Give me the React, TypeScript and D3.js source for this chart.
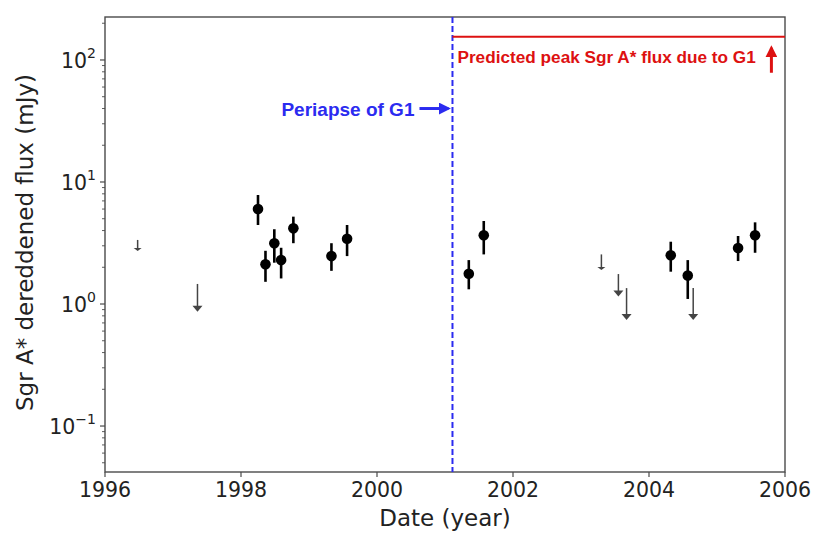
import React from 'react';
import * as d3 from 'd3';

// detections: year, flux, error bar top, error bar bottom (mJy)
const detYears = [1998.25, 1998.36, 1998.49, 1998.59, 1998.77, 1999.33, 1999.56, 2001.35, 2001.57, 2004.32, 2004.57, 2005.31, 2005.56];
const detFlux = [6.0, 2.12, 3.15, 2.29, 4.17, 2.47, 3.43, 1.77, 3.66, 2.51, 1.71, 2.88, 3.66];
const detHigh = [7.82, 2.73, 4.1, 2.89, 5.2, 3.15, 4.44, 2.29, 4.79, 3.24, 2.29, 3.61, 4.67];
const detLow = [4.44, 1.52, 2.18, 1.62, 3.15, 1.87, 2.47, 1.32, 2.55, 1.84, 1.1, 2.25, 2.63];

// upper limits: year, limit value, arrow tip value
const limYears = [1996.48, 1997.36, 2003.3, 2003.55, 2003.67, 2004.65];
const limFlux = [3.35, 1.46, 2.55, 1.76, 1.35, 1.35];
const limTip = [2.72, 0.865, 1.9, 1.15, 0.74, 0.74];

const xTicks = [1996, 1998, 2000, 2002, 2004, 2006];
const yTicks = [-1, 0, 1, 2];

const periapseYear = 2001.11;
const predictedPeak = 155;

const W = 827;
const H = 544;
const M = { left: 106, right: 42, top: 17, bottom: 72 };

export default function App() {
  const x = d3.scaleLinear().domain([1996, 2006]).range([M.left - 1, W - M.right]);
  const y = d3.scaleLog().domain([0.042, 225]).range([H - M.bottom, M.top]);
  const [y0, y1] = y.range();
  const [x0, x1] = x.range();

  const minor: number[] = [];
  for (let e = -2; e <= 2; e++) {
    for (let k = 2; k <= 9; k++) {
      const v = k * Math.pow(10, e);
      if (v >= 0.042 && v <= 225) minor.push(v);
    }
  }

  const axisColor = '#4a4a4a';
  const font = 'DejaVu Sans, sans-serif';
  const bold = 'Liberation Sans, Arial, sans-serif';
  const blue = '#2b2bf0';
  const red = '#dd1111';

  return (
    <svg width={W} height={H} style={{ position: 'absolute', left: 0, top: 0, background: '#fff' }}>
      <defs>
        <marker id="blueArrow" viewBox="0 0 10 10" refX="8" refY="5" markerWidth="4" markerHeight="4" orient="auto">
          <path d="M0,0 L10,5 L0,10 z" fill={blue} />
        </marker>
        <marker id="redArrow" viewBox="0 0 10 10" refX="8" refY="5" markerWidth="4" markerHeight="4" orient="auto">
          <path d="M0,0 L10,5 L0,10 z" fill={red} />
        </marker>
      </defs>

      {/* frame */}
      <rect x={x0} y={y1} width={x1 - x0} height={y0 - y1} fill="none" stroke={axisColor} strokeWidth={1.4} />

      {/* x ticks */}
      {xTicks.map((t) => (
        <g key={t}>
          <line x1={x(t)} x2={x(t)} y1={y0} y2={y0 + 5} stroke={axisColor} strokeWidth={1.2} />
          <text x={x(t)} y={y0 + 25} textAnchor="middle" fontFamily={font} fontSize={20.5} fill="#222">
            {t}
          </text>
        </g>
      ))}

      {/* y ticks */}
      {yTicks.map((e) => (
        <g key={e}>
          <line x1={x0} x2={x0 - 5} y1={y(Math.pow(10, e))} y2={y(Math.pow(10, e))} stroke={axisColor} strokeWidth={1.2} />
          <text x={x0 - 9} y={y(Math.pow(10, e)) + 8} textAnchor="end" fontFamily={font} fontSize={20.5} fill="#222">
            10
            <tspan dy={-10} fontSize={14}>
              {e < 0 ? '\u2212' + Math.abs(e) : e}
            </tspan>
          </text>
        </g>
      ))}
      {minor.map((v) => (
        <line key={v} x1={x0} x2={x0 - 3} y1={y(v)} y2={y(v)} stroke={axisColor} strokeWidth={0.9} />
      ))}

      {/* axis labels */}
      <text x={(x0 + x1) / 2} y={H - 18} textAnchor="middle" fontFamily={font} fontSize={23} fill="#222">
        Date (year)
      </text>
      <text
        transform={`translate(33, ${(y0 + y1) / 2 - 2}) rotate(-90)`}
        textAnchor="middle"
        fontFamily={font}
        fontSize={23}
        fill="#222"
      >
        Sgr A* dereddened flux (mJy)
      </text>

      {/* periapse line */}
      <line x1={x(periapseYear)} x2={x(periapseYear)} y1={y1} y2={y0} stroke={blue} strokeWidth={2} strokeDasharray="6,3" />
      <text x={x(periapseYear) - 38} y={y(40) + 7} textAnchor="end" fontFamily={bold} fontWeight="bold" fontSize={19} fill={blue}>
        Periapse of G1
      </text>
      <line
        x1={x(periapseYear) - 33}
        x2={x(periapseYear) - 4}
        y1={y(40)}
        y2={y(40)}
        stroke={blue}
        strokeWidth={3}
        markerEnd="url(#blueArrow)"
      />

      {/* predicted peak */}
      <line x1={x(periapseYear)} x2={x1} y1={y(predictedPeak)} y2={y(predictedPeak)} stroke={red} strokeWidth={2} />
      <text x={x(periapseYear) + 5} y={y(predictedPeak) + 26} fontFamily={bold} fontWeight="bold" fontSize={17.2} fill={red}>
        Predicted peak Sgr A* flux due to G1
      </text>
      <line x1={x(2005.8)} x2={x(2005.8)} y1={y(predictedPeak) + 36} y2={y(predictedPeak) + 11} stroke={red} strokeWidth={3} markerEnd="url(#redArrow)" />

      {/* upper limits */}
      {limYears.map((yr, i) => {
        const top = y(limFlux[i]);
        const tip = y(limTip[i]);
        const small = tip - top < 18;
        const hw = small ? 4 : 5;
        const hh = small ? 3 : 6;
        return (
          <g key={'lim' + i} stroke="#444" fill="#444">
            <line x1={x(yr)} x2={x(yr)} y1={top} y2={tip - hh + 1} strokeWidth={1.5} />
            <path d={`M${x(yr) - hw},${tip - hh} L${x(yr) + hw},${tip - hh} L${x(yr)},${tip} Z`} stroke="none" />
          </g>
        );
      })}

      {/* detections */}
      {detYears.map((yr, i) => (
        <g key={'det' + i}>
          <line x1={x(yr)} x2={x(yr)} y1={y(detHigh[i])} y2={y(detLow[i])} stroke="#000" strokeWidth={2.6} />
          <circle cx={x(yr)} cy={y(detFlux[i])} r={5.3} fill="#000" />
        </g>
      ))}
    </svg>
  );
}
